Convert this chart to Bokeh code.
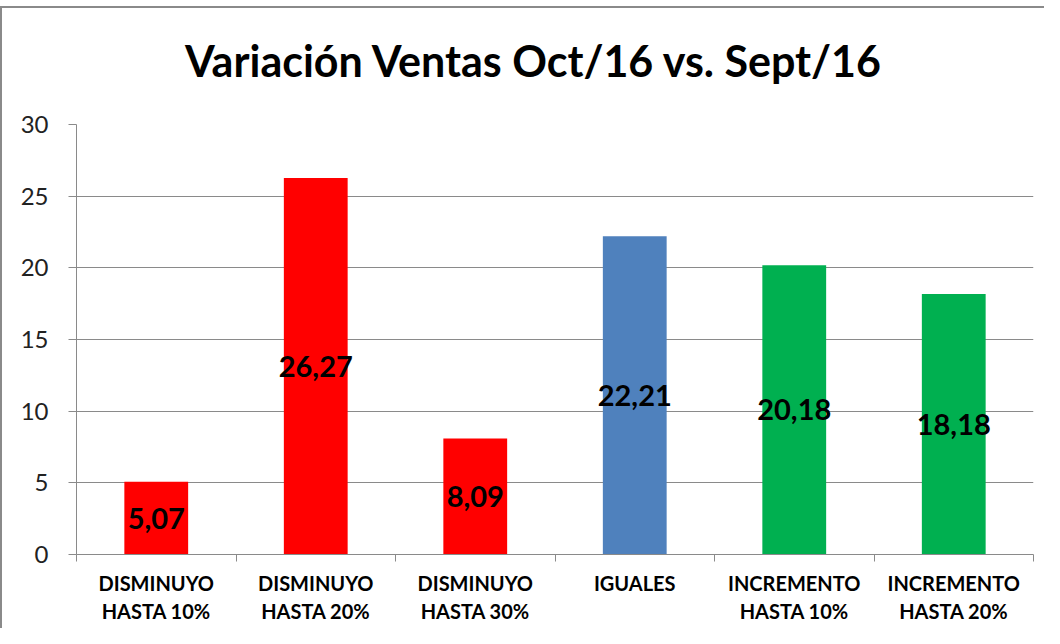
from bokeh.plotting import figure
from bokeh.models import ColumnDataSource, Range1d, FixedTicker, LabelSet, Spacer, Div
from bokeh.layouts import column
from bokeh.core.properties import value
from bokeh.embed import file_html
from bokeh.resources import INLINE

categories = ["DISMINUYO\nHASTA 10%", "DISMINUYO\nHASTA 20%", "DISMINUYO\nHASTA 30%",
              "IGUALES", "INCREMENTO\nHASTA 10%", "INCREMENTO\nHASTA 20%"]
values = [5.07, 26.27, 8.09, 22.21, 20.18, 18.18]
value_labels = ["5,07", "26,27", "8,09", "22,21", "20,18", "18,18"]
colors = ["#FF0000", "#FF0000", "#FF0000", "#4F81BD", "#00B050", "#00B050"]
y_ticks = [0, 5, 10, 15, 20, 25, 30]
title_text = "Variación Ventas Oct/16 vs. Sept/16"

xs = [i + 0.5 for i in range(len(categories))]
src = ColumnDataSource(dict(x=xs, top=values, mid=[v / 2 for v in values],
                            lab=value_labels, color=colors))

title_div = Div(
    text=('<div style="box-sizing:border-box;width:1044px;height:96px;'
          'border-top:2px solid #8a8a8a;border-left:2px solid #8a8a8a;'
          'padding-top:27px;padding-left:20px;text-align:center;'
          'font-family:Lato;font-weight:bold;font-size:43px;line-height:52px;color:#000;">'
          + title_text + '</div>'),
    width=1044, height=96, margin=(0, 0, 0, 0))

p = figure(width=1044, height=526, output_backend="svg", toolbar_location=None,
           x_range=Range1d(0, len(categories)), y_range=Range1d(0, 30),
           min_border_left=74, min_border_right=13, min_border_top=22, min_border_bottom=74,
           title=None, margin=(0, 0, 0, 0))
p.styles = {"border-left": "2px solid #8a8a8a"}
p.outline_line_color = None
p.background_fill_color = "white"
p.border_fill_color = "white"

p.vbar(x="x", top="top", width=0.4, bottom=0, color="color", source=src, line_color=None)

lbl = LabelSet(x="x", y="mid", text="lab", source=src, text_align="center",
               text_baseline="middle", text_font=value("Lato"), text_font_style="bold",
               text_font_size="29px", text_color="#000000")
p.add_layout(lbl)

# grid
p.xgrid.grid_line_color = None
p.ygrid.ticker = FixedTicker(ticks=y_ticks)
p.ygrid.grid_line_color = "#8a8a8a"
p.ygrid.grid_line_width = 1

# y axis
p.yaxis.ticker = FixedTicker(ticks=y_ticks)
p.yaxis.axis_line_color = "#8a8a8a"
p.yaxis.major_tick_line_color = "#8a8a8a"
p.yaxis.major_tick_out = 8
p.yaxis.major_tick_in = 0
p.yaxis.minor_tick_line_color = None
p.yaxis.major_label_text_font = "Lato"
p.yaxis.major_label_text_font_size = "24px"
p.yaxis.major_label_text_color = "#222222"
p.yaxis.major_label_standoff = 20

# x axis
p.xaxis.ticker = FixedTicker(ticks=xs, minor_ticks=list(range(len(categories) + 1)))
p.xaxis.major_label_overrides = {x: c for x, c in zip(xs, categories)}
p.xaxis.axis_line_color = "#8a8a8a"
p.xaxis.major_tick_line_color = None
p.xaxis.minor_tick_line_color = "#8a8a8a"
p.xaxis.minor_tick_out = 7
p.xaxis.minor_tick_in = 0
p.xaxis.major_label_text_font = "Lato"
p.xaxis.major_label_text_font_style = "bold"
p.xaxis.major_label_text_font_size = "20px"
p.xaxis.major_label_text_color = "#000000"
p.xaxis.major_label_text_line_height = 1.2
p.xaxis.major_label_standoff = 9

layout = column(Spacer(height=6, width=1044, margin=(0, 0, 0, 0)), title_div, p, spacing=0)
open("out.html", "w").write(file_html(layout, INLINE))
